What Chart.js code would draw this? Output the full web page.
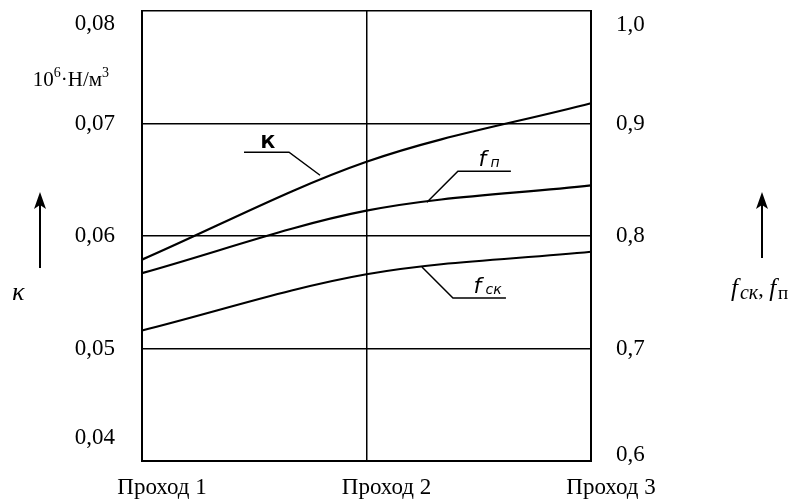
<!DOCTYPE html>
<html><head><meta charset="utf-8">
<script src="https://cdn.jsdelivr.net/npm/chart.js@4.4.1/dist/chart.umd.min.js"></script>
<style>html,body{margin:0;padding:0;background:#fff;}canvas{display:block;}</style>
</head><body>
<canvas id="c" width="800" height="499"></canvas>
<script>
const categories = ['Проход 1', 'Проход 2', 'Проход 3'];
const kValues   = [0.0579, 0.0666, 0.0718];   // left axis, 10^6·Н/м³
const fpValues  = [0.767, 0.8225, 0.845];     // right axis
const fskValues = [0.716, 0.766, 0.786];      // right axis
const leftRange  = {min: 0.04, max: 0.08, step: 0.01};
const rightRange = {min: 0.6, max: 1.0, step: 0.1};
// curve callouts: anchor in data coords (category index, value, axis)
const callouts = [
  {text: 'К',  sub: '',   axis: 'y',  xi: 0.793, v: 0.0654, dir: -1, dy: -23},
  {text: 'f',  sub: 'п',  axis: 'y2', xi: 1.269, v: 0.830,  dir: 1,  dy: -31},
  {text: 'f',  sub: 'ск', axis: 'y2', xi: 1.247, v: 0.7724, dir: 1,  dy: 31}
];

const SERIF = '"Liberation Serif", "Times New Roman", serif';
const comma = (v, d) => v.toFixed(d).replace('.', ',');

const extras = {
  id: 'extras',
  afterDraw(chart) {
    const ctx = chart.ctx, xs = chart.scales.x, area = chart.chartArea;
    ctx.save();
    ctx.fillStyle = '#000'; ctx.strokeStyle = '#000';
    // y tick labels (positions from the scales, kept inside the frame at the ends)
    ctx.font = '23px ' + SERIF; ctx.textBaseline = 'middle';
    const drawTicks = (scale, dec, tx, align, inTop, inBot) => {
      ctx.textAlign = align;
      scale.ticks.forEach(t => {
        let y = scale.getPixelForValue(t.value);
        y = Math.min(Math.max(y, area.top + inTop), area.bottom - inBot);
        ctx.fillText(comma(t.value, dec), tx, y);
      });
    };
    drawTicks(chart.scales.y, 2, area.left - 27, 'right', 13, 23);
    drawTicks(chart.scales.y2, 1, area.right + 25, 'left', 14, 6);
    // unit label
    ctx.textBaseline = 'alphabetic'; ctx.textAlign = 'left';
    const parts = [['10', 21, 0], ['6', 14, -9], ['·Н/м', 21, 0], ['3', 14, -9]];
    let w = 0;
    parts.forEach(p => { ctx.font = p[1] + 'px ' + SERIF; w += ctx.measureText(p[0]).width; });
    let x = 109 - w;
    parts.forEach(p => { ctx.font = p[1] + 'px ' + SERIF; ctx.fillText(p[0], x, 86 + p[2]); x += ctx.measureText(p[0]).width; });
    // arrows
    const arrow = (ax, y0, y1) => {
      ctx.lineWidth = 2;
      ctx.beginPath(); ctx.moveTo(ax, y0); ctx.lineTo(ax, y1 + 10); ctx.stroke();
      ctx.beginPath(); ctx.moveTo(ax, y1); ctx.lineTo(ax - 6, y1 + 17); ctx.lineTo(ax, y1 + 13); ctx.lineTo(ax + 6, y1 + 17); ctx.closePath(); ctx.fill();
    };
    arrow(40, 268, 192);
    arrow(762, 258, 192);
    ctx.font = 'italic 26px ' + SERIF;
    ctx.fillText('κ', 12, 300);
    // right axis title
    let rx = 731;
    const seq = [['f', 'italic 25px ', 0], ['ск', 'italic 20px ', 3], [', ', '22px ', 0], ['f', 'italic 25px ', 0], ['п', '19px ', 3]];
    seq.forEach(s => { ctx.font = s[1] + SERIF; ctx.fillText(s[0], rx, 296 + s[2]); rx += ctx.measureText(s[0]).width + (s[0] === 'f' ? 2 : 0); });
    // callouts
    ctx.lineWidth = 1.5;
    callouts.forEach(c => {
      const ax = xs.getPixelForValue(c.xi), ay = chart.scales[c.axis].getPixelForValue(c.v);
      const ex = ax + c.dir * 31, ey = ay + c.dy;
      const fx = ex + c.dir * 45 + (c.dir > 0 ? 8 : 0);
      ctx.beginPath(); ctx.moveTo(ax, ay); ctx.lineTo(ex, ey); ctx.lineTo(fx, ey); ctx.stroke();
      const tx = (ex + fx) / 2 - 6;
      if (c.sub) {
        ctx.font = 'italic 22px "DejaVu Sans", sans-serif';
        ctx.fillText(c.text, tx, ey - 5);
        ctx.font = 'italic 14px "DejaVu Sans", sans-serif';
        ctx.fillText(c.sub, tx + 12, ey - 4);
      } else {
        ctx.font = 'bold 18px "DejaVu Sans", sans-serif';
        ctx.fillText(c.text, tx, ey - 4);
      }
    });
    ctx.restore();
  }
};

const lineDs = (label, data, axis) => ({
  label, data, yAxisID: axis, borderColor: '#000', borderWidth: 2.2,
  pointRadius: 0, fill: false, cubicInterpolationMode: 'monotone'
});

const fitY = w => function (s) { s.width = w; s.paddingTop = 0; s.paddingBottom = 0; };

new Chart(document.getElementById('c'), {
  type: 'line',
  data: {
    labels: categories,
    datasets: [lineDs('К', kValues, 'y'), lineDs('fп', fpValues, 'y2'), lineDs('fск', fskValues, 'y2')]
  },
  options: {
    responsive: false, animation: false,
    layout: {padding: {top: 11, right: 0, left: 0, bottom: 0}},
    plugins: {legend: {display: false}, tooltip: {enabled: false}},
    scales: {
      x: {
        type: 'category', offset: false,
        grid: {color: '#000', lineWidth: 1.5, drawTicks: false},
        border: {color: '#000', width: 2},
        ticks: {color: '#000', font: {family: SERIF, size: 23}, padding: 13, labelOffset: 20, maxRotation: 0, autoSkip: false},
        afterFit(s) { s.height = 38; s.paddingLeft = 0; s.paddingRight = 0; }
      },
      y: {
        position: 'left', min: leftRange.min, max: leftRange.max,
        grid: {color: '#000', lineWidth: 1.5, drawTicks: false},
        border: {color: '#000', width: 2},
        ticks: {stepSize: leftRange.step, color: 'rgba(0,0,0,0)', font: {family: SERIF, size: 23}, padding: 27, callback: v => comma(v, 2)},
        afterFit: fitY(142)
      },
      y2: {
        position: 'right', min: rightRange.min, max: rightRange.max,
        grid: {display: false, drawTicks: false},
        border: {color: '#000', width: 2},
        ticks: {stepSize: rightRange.step, color: 'rgba(0,0,0,0)', font: {family: SERIF, size: 23}, padding: 25, callback: v => comma(v, 1)},
        afterFit: fitY(209)
      }
    }
  },
  plugins: [extras]
});
</script>
</body></html>
